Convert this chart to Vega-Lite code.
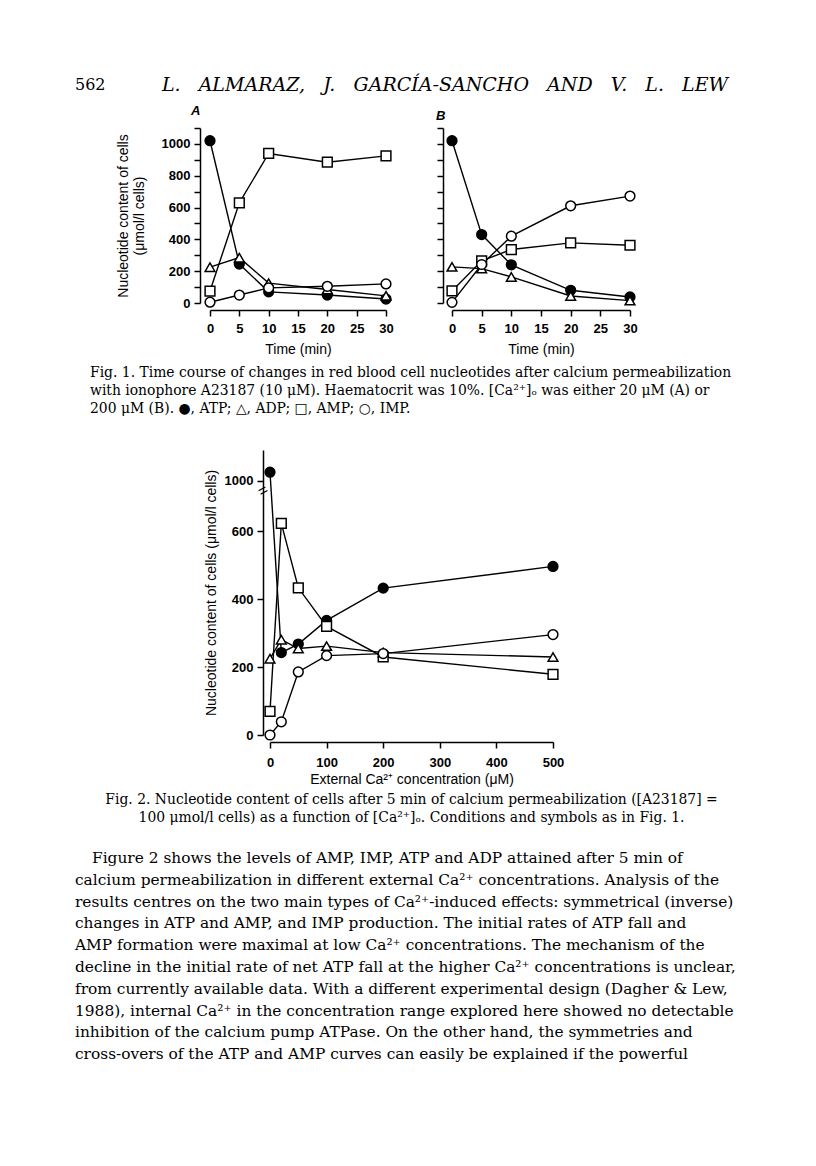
{
  "$schema": "https://vega.github.io/schema/vega-lite/v6.json",
  "padding": 0,
  "background": "white",
  "bounds": "flush",
  "spacing": 0,
  "config": {
    "view": {"stroke": null},
    "font": "Liberation Sans",
    "axis": {"domainColor": "black", "domainWidth": 1.5, "tickColor": "black", "tickWidth": 1.5, "tickSize": 6, "labelColor": "black", "labelFont": "Liberation Sans", "labelFontSize": 13, "labelFontWeight": "bold", "titleColor": "black", "titleFont": "Liberation Sans", "titleFontSize": 14, "titleFontWeight": "normal", "grid": false, "labelPadding": 4, "labelOverlap": false, "labelFlush": false, "labelBound": false, "format": "d"},
    "axisX": {"labelAngle": 0, "titlePadding": 2, "labelPadding": 6},
    "axisY": {"titlePadding": 8, "titleLineHeight": 16}
  },
  "datasets": {
    "fig1": [
      {"panel": "A", "time": 0, "nucleotide": "ATP", "value": 1020},
      {"panel": "A", "time": 5, "nucleotide": "ATP", "value": 245},
      {"panel": "A", "time": 10, "nucleotide": "ATP", "value": 70},
      {"panel": "A", "time": 20, "nucleotide": "ATP", "value": 50},
      {"panel": "A", "time": 30, "nucleotide": "ATP", "value": 25},
      {"panel": "A", "time": 0, "nucleotide": "ADP", "value": 225},
      {"panel": "A", "time": 5, "nucleotide": "ADP", "value": 285},
      {"panel": "A", "time": 10, "nucleotide": "ADP", "value": 125},
      {"panel": "A", "time": 20, "nucleotide": "ADP", "value": 85},
      {"panel": "A", "time": 30, "nucleotide": "ADP", "value": 45},
      {"panel": "A", "time": 0, "nucleotide": "AMP", "value": 75},
      {"panel": "A", "time": 5, "nucleotide": "AMP", "value": 630},
      {"panel": "A", "time": 10, "nucleotide": "AMP", "value": 940},
      {"panel": "A", "time": 20, "nucleotide": "AMP", "value": 885},
      {"panel": "A", "time": 30, "nucleotide": "AMP", "value": 925},
      {"panel": "A", "time": 0, "nucleotide": "IMP", "value": 5},
      {"panel": "A", "time": 5, "nucleotide": "IMP", "value": 50},
      {"panel": "A", "time": 10, "nucleotide": "IMP", "value": 95},
      {"panel": "A", "time": 20, "nucleotide": "IMP", "value": 105},
      {"panel": "A", "time": 30, "nucleotide": "IMP", "value": 120},
      {"panel": "B", "time": 0, "nucleotide": "ATP", "value": 1020},
      {"panel": "B", "time": 5, "nucleotide": "ATP", "value": 430},
      {"panel": "B", "time": 10, "nucleotide": "ATP", "value": 240},
      {"panel": "B", "time": 20, "nucleotide": "ATP", "value": 80},
      {"panel": "B", "time": 30, "nucleotide": "ATP", "value": 38},
      {"panel": "B", "time": 0, "nucleotide": "ADP", "value": 227},
      {"panel": "B", "time": 5, "nucleotide": "ADP", "value": 216},
      {"panel": "B", "time": 10, "nucleotide": "ADP", "value": 164},
      {"panel": "B", "time": 20, "nucleotide": "ADP", "value": 44},
      {"panel": "B", "time": 30, "nucleotide": "ADP", "value": 15},
      {"panel": "B", "time": 0, "nucleotide": "AMP", "value": 76},
      {"panel": "B", "time": 5, "nucleotide": "AMP", "value": 265},
      {"panel": "B", "time": 10, "nucleotide": "AMP", "value": 336},
      {"panel": "B", "time": 20, "nucleotide": "AMP", "value": 378},
      {"panel": "B", "time": 30, "nucleotide": "AMP", "value": 363},
      {"panel": "B", "time": 0, "nucleotide": "IMP", "value": 4},
      {"panel": "B", "time": 5, "nucleotide": "IMP", "value": 242},
      {"panel": "B", "time": 10, "nucleotide": "IMP", "value": 420},
      {"panel": "B", "time": 20, "nucleotide": "IMP", "value": 611},
      {"panel": "B", "time": 30, "nucleotide": "IMP", "value": 672}
    ],
    "fig2": [
      {"ca": 0, "nucleotide": "ATP", "value": 1025},
      {"ca": 20, "nucleotide": "ATP", "value": 243},
      {"ca": 50, "nucleotide": "ATP", "value": 268},
      {"ca": 100, "nucleotide": "ATP", "value": 338},
      {"ca": 200, "nucleotide": "ATP", "value": 433},
      {"ca": 500, "nucleotide": "ATP", "value": 497},
      {"ca": 0, "nucleotide": "ADP", "value": 225},
      {"ca": 20, "nucleotide": "ADP", "value": 281},
      {"ca": 50, "nucleotide": "ADP", "value": 255},
      {"ca": 100, "nucleotide": "ADP", "value": 262},
      {"ca": 200, "nucleotide": "ADP", "value": 243},
      {"ca": 500, "nucleotide": "ADP", "value": 230},
      {"ca": 0, "nucleotide": "AMP", "value": 70},
      {"ca": 20, "nucleotide": "AMP", "value": 624},
      {"ca": 50, "nucleotide": "AMP", "value": 434},
      {"ca": 100, "nucleotide": "AMP", "value": 320},
      {"ca": 200, "nucleotide": "AMP", "value": 230},
      {"ca": 500, "nucleotide": "AMP", "value": 179},
      {"ca": 0, "nucleotide": "IMP", "value": 0},
      {"ca": 20, "nucleotide": "IMP", "value": 39},
      {"ca": 50, "nucleotide": "IMP", "value": 186},
      {"ca": 100, "nucleotide": "IMP", "value": 234},
      {"ca": 200, "nucleotide": "IMP", "value": 240},
      {"ca": 500, "nucleotide": "IMP", "value": 296}
    ]
  },
  "vconcat": [
    {"width": 10, "height": 70, "data": {"values": []}, "mark": "point"},
    {
      "hconcat": [
        {"width": 75, "height": 30, "data": {"values": []}, "mark": "point"},
        {
          "width": 740, "height": 30,
          "layer": [
            {
              "data": {"values": [{"text": "562"}]},
              "mark": {"type": "text", "align": "left", "baseline": "middle", "font": "DejaVu Serif", "fontSize": 16, "color": "black"},
              "encoding": {"x": {"datum": 0, "type": "quantitative", "scale": {"domain": [0, 1]}, "axis": null}, "text": {"field": "text"}}
            },
            {
              "data": {"values": [{"text": "L.\u00a0\u00a0 ALMARAZ,\u00a0\u00a0 J.\u00a0\u00a0 GARCÍA-SANCHO\u00a0\u00a0 AND\u00a0\u00a0 V.\u00a0\u00a0 L.\u00a0\u00a0 LEW"}]},
              "mark": {"type": "text", "align": "center", "baseline": "middle", "font": "DejaVu Serif", "fontSize": 19, "fontStyle": "italic", "color": "black"},
              "encoding": {"text": {"field": "text"}}
            }
          ]
        }
      ],
      "bounds": "flush", "spacing": 0
    },
    {"width": 10, "height": 58, "data": {"values": []}, "mark": "point"},
    {
      "hconcat": [
        {"width": 210, "height": 10, "data": {"values": []}, "mark": "point"},
        {
          "width": 176, "height": 175,
          "title": {"text": "A", "anchor": "start", "frame": "group", "offset": 4, "dx": -19, "font": "Liberation Sans", "fontSize": 13, "fontStyle": "italic", "fontWeight": "bold", "color": "black"},
          "data": {"name": "fig1"},
          "transform": [{"filter": "datum.panel == 'A'"}],
          "encoding": {
            "x": {"field": "time", "type": "quantitative", "scale": {"domain": [0, 30], "nice": false}, "axis": {"values": [0, 5, 10, 15, 20, 25, 30], "title": "Time (min)", "offset": 7, "titlePadding": 7}},
            "y": {"field": "value", "type": "quantitative", "scale": {"domain": [0, 1100], "nice": false}, "axis": {"values": [0, 100, 200, 300, 400, 500, 600, 700, 800, 900, 1000, 1100], "labelExpr": "datum.value % 200 == 0 && datum.value <= 1000 ? datum.label : ''", "title": ["Nucleotide content of cells", "(μmol/l cells)"], "offset": 10, "titlePadding": 15}}
          },
          "layer": [
            {"mark": {"type": "line", "color": "black", "strokeWidth": 1.4}, "encoding": {"detail": {"field": "nucleotide"}}},
            {"mark": {"type": "point", "filled": true, "stroke": "black", "strokeWidth": 1.5, "size": 95, "opacity": 1},
             "encoding": {
               "shape": {"field": "nucleotide", "type": "nominal", "scale": {"domain": ["ATP", "ADP", "AMP", "IMP"], "range": ["circle", "triangle-up", "square", "circle"]}, "legend": null},
               "fill": {"field": "nucleotide", "type": "nominal", "scale": {"domain": ["ATP", "ADP", "AMP", "IMP"], "range": ["black", "white", "white", "white"]}, "legend": null}
             }}
          ]
        },
        {"width": 66, "height": 10, "data": {"values": []}, "mark": "point"},
        {
          "width": 178, "height": 175,
          "title": {"text": "B", "anchor": "start", "frame": "group", "offset": 4, "dx": -16, "font": "Liberation Sans", "fontSize": 13, "fontStyle": "italic", "fontWeight": "bold", "color": "black"},
          "data": {"name": "fig1"},
          "transform": [{"filter": "datum.panel == 'B'"}],
          "encoding": {
            "x": {"field": "time", "type": "quantitative", "scale": {"domain": [0, 30], "nice": false}, "axis": {"values": [0, 5, 10, 15, 20, 25, 30], "title": "Time (min)", "offset": 7, "titlePadding": 7}},
            "y": {"field": "value", "type": "quantitative", "scale": {"domain": [0, 1100], "nice": false}, "axis": {"values": [0, 100, 200, 300, 400, 500, 600, 700, 800, 900, 1000, 1100], "labels": false, "title": null, "offset": 9}}
          },
          "layer": [
            {"mark": {"type": "line", "color": "black", "strokeWidth": 1.4}, "encoding": {"detail": {"field": "nucleotide"}}},
            {"mark": {"type": "point", "filled": true, "stroke": "black", "strokeWidth": 1.5, "size": 95, "opacity": 1},
             "encoding": {
               "shape": {"field": "nucleotide", "type": "nominal", "scale": {"domain": ["ATP", "ADP", "AMP", "IMP"], "range": ["circle", "triangle-up", "square", "circle"]}, "legend": null},
               "fill": {"field": "nucleotide", "type": "nominal", "scale": {"domain": ["ATP", "ADP", "AMP", "IMP"], "range": ["black", "white", "white", "white"]}, "legend": null}
             }}
          ]
        }
      ],
      "bounds": "flush", "spacing": 0
    },
    {"width": 10, "height": 236, "data": {"values": []}, "mark": "point"},
    {
      "hconcat": [
        {"width": 90, "height": 10, "data": {"values": []}, "mark": "point"},
        {
          "width": 643, "height": 54,
          "data": {"values": [
            {"line": 0, "text": "Fig. 1. Time course of changes in red blood cell nucleotides after calcium permeabilization"},
            {"line": 1, "text": "with ionophore A23187 (10 μM). Haematocrit was 10%. [Ca²⁺]ₒ was either 20 μM (A) or"},
            {"line": 2, "text": "200 μM (B). ●, ATP; △, ADP; □, AMP; ○, IMP."}
          ]},
          "mark": {"type": "text", "align": "left", "baseline": "middle", "font": "DejaVu Serif", "fontSize": 13.9, "color": "black"},
          "encoding": {
            "x": {"datum": 0, "type": "quantitative", "scale": {"domain": [0, 1]}, "axis": null},
            "y": {"field": "line", "type": "ordinal", "axis": null, "scale": {"type": "point", "padding": 0.5}},
            "text": {"field": "text"}
          }
        }
      ],
      "bounds": "flush", "spacing": 0
    },
    {"width": 10, "height": 86, "data": {"values": []}, "mark": "point"},
    {
      "hconcat": [
        {"width": 270, "height": 10, "data": {"values": []}, "mark": "point"},
        {
          "width": 283, "height": 285,
          "layer": [
            {
              "data": {"name": "fig2"},
              "mark": {"type": "line", "color": "black", "strokeWidth": 1.4},
              "encoding": {
                "x": {"field": "ca", "type": "quantitative", "scale": {"domain": [0, 500], "nice": false}, "axis": {"values": [0, 50, 100, 150, 200, 250, 300, 350, 400, 450, 500], "labelExpr": "datum.value % 100 == 0 ? datum.label : ''", "title": "External Ca²⁺ concentration (μM)", "offset": 7, "labelPadding": 8, "titlePadding": 3}},
                "y": {"field": "value", "type": "quantitative", "scale": {"domain": [0, 740, 995, 1090], "range": [285, 34, 32.5, 0], "nice": false, "zero": false}, "axis": {"values": [0, 100, 200, 300, 400, 500, 600, 700, 1000, 1090], "labelExpr": "datum.value % 200 == 0 ? datum.label : ''", "title": "Nucleotide content  of cells (μmol/l cells)", "offset": 7, "titlePadding": 6}},
                "detail": {"field": "nucleotide"}
              }
            },
            {
              "data": {"name": "fig2"},
              "mark": {"type": "point", "filled": true, "stroke": "black", "strokeWidth": 1.5, "size": 95, "opacity": 1},
              "encoding": {
                "x": {"field": "ca", "type": "quantitative"},
                "y": {"field": "value", "type": "quantitative"},
                "shape": {"field": "nucleotide", "type": "nominal", "scale": {"domain": ["ATP", "ADP", "AMP", "IMP"], "range": ["circle", "triangle-up", "square", "circle"]}, "legend": null},
                "fill": {"field": "nucleotide", "type": "nominal", "scale": {"domain": ["ATP", "ADP", "AMP", "IMP"], "range": ["black", "white", "white", "white"]}, "legend": null}
              }
            },
            {
              "data": {"values": [{"mark": "break"}]},
              "mark": {"type": "text", "text": "=", "angle": -30, "fontSize": 16, "font": "Liberation Sans", "baseline": "middle", "align": "center", "xOffset": -7, "color": "black"},
              "encoding": {
                "x": {"datum": 0, "type": "quantitative"},
                "y": {"datum": 720, "type": "quantitative"}
              }
            }
          ]
        }
      ],
      "bounds": "flush", "spacing": 0
    },
    {"width": 10, "height": 341, "data": {"values": []}, "mark": "point"},
    {
      "hconcat": [
        {"width": 90, "height": 10, "data": {"values": []}, "mark": "point"},
        {
          "width": 643, "height": 36,
          "data": {"values": [
            {"line": 0, "text": "Fig. 2. Nucleotide content of cells after 5 min of calcium permeabilization ([A23187] ="},
            {"line": 1, "text": "100 μmol/l cells) as a function of [Ca²⁺]ₒ. Conditions and symbols as in Fig. 1."}
          ]},
          "mark": {"type": "text", "align": "center", "baseline": "middle", "font": "DejaVu Serif", "fontSize": 13.9, "color": "black"},
          "encoding": {
            "y": {"field": "line", "type": "ordinal", "axis": null, "scale": {"type": "point", "padding": 0.5}},
            "text": {"field": "text"}
          }
        }
      ],
      "bounds": "flush", "spacing": 0
    },
    {"width": 10, "height": 56, "data": {"values": []}, "mark": "point"},
    {
      "hconcat": [
        {"width": 75, "height": 10, "data": {"values": []}, "mark": "point"},
        {
          "width": 660, "height": 218,
          "data": {"values": [
            {"line": 0, "text": "Figure 2 shows the levels of AMP, IMP, ATP and ADP attained after 5 min of"},
            {"line": 1, "text": "calcium permeabilization in different external Ca²⁺ concentrations. Analysis of the"},
            {"line": 2, "text": "results centres on the two main types of Ca²⁺-induced effects: symmetrical (inverse)"},
            {"line": 3, "text": "changes in ATP and AMP, and IMP production. The initial rates of ATP fall and"},
            {"line": 4, "text": "AMP formation were maximal at low Ca²⁺ concentrations. The mechanism of the"},
            {"line": 5, "text": "decline in the initial rate of net ATP fall at the higher Ca²⁺ concentrations is unclear,"},
            {"line": 6, "text": "from currently available data. With a different experimental design (Dagher & Lew,"},
            {"line": 7, "text": "1988), internal Ca²⁺ in the concentration range explored here showed no detectable"},
            {"line": 8, "text": "inhibition of the calcium pump ATPase. On the other hand, the symmetries and"},
            {"line": 9, "text": "cross-overs of the ATP and AMP curves can easily be explained if the powerful"}
          ]},
          "encoding": {
            "x": {"datum": 0, "type": "quantitative", "scale": {"domain": [0, 1]}, "axis": null},
            "y": {"field": "line", "type": "ordinal", "axis": null, "scale": {"type": "point", "padding": 0.5}},
            "text": {"field": "text"}
          },
          "layer": [
            {
              "transform": [{"filter": "datum.line > 0"}],
              "mark": {"type": "text", "align": "left", "baseline": "middle", "font": "DejaVu Serif", "fontSize": 15.4, "color": "black"}
            },
            {
              "transform": [{"filter": "datum.line == 0"}],
              "mark": {"type": "text", "align": "left", "baseline": "middle", "font": "DejaVu Serif", "fontSize": 15.4, "color": "black", "dx": 17}
            }
          ]
        }
      ],
      "bounds": "flush", "spacing": 0
    },
    {"width": 10, "height": 319, "data": {"values": []}, "mark": "point"}
  ]
}
